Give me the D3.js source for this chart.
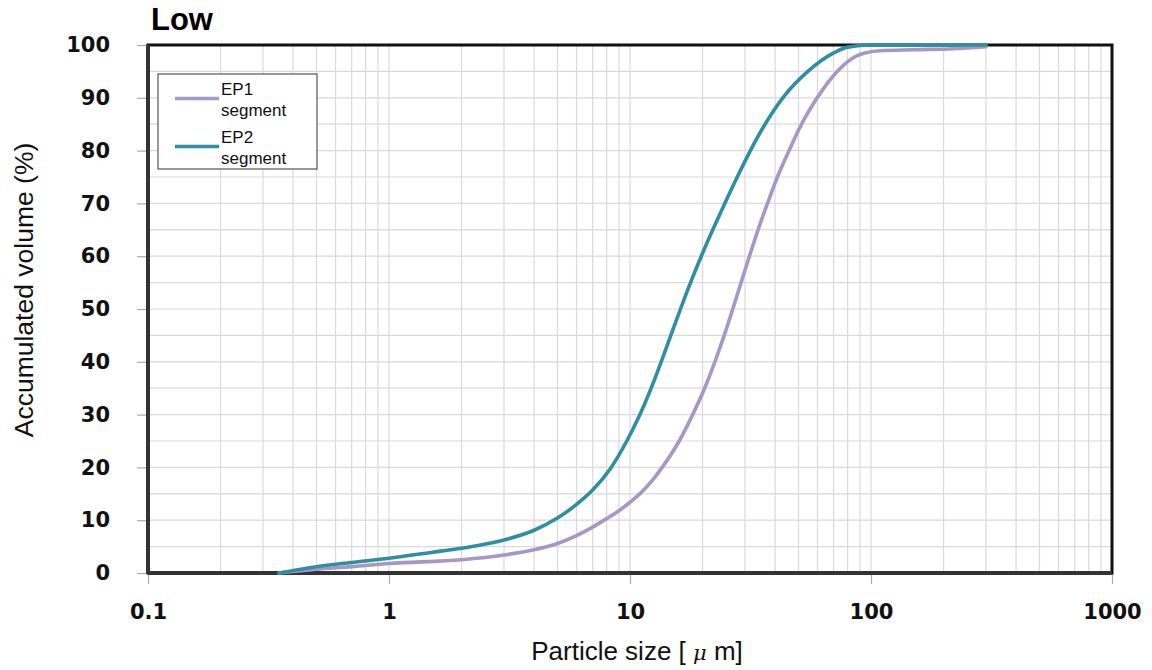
<!DOCTYPE html>
<html>
<head>
<meta charset="utf-8">
<script src="https://cdn.jsdelivr.net/npm/d3@7"></script>
<style>
    body { margin: 0; background: #fff; }
    svg { display: block; }
</style>
</head>
<body>
<div id="chart"></div>
<script>
// particle size (um) and accumulated volume (%)
var ep1Size = [0.35, 0.5, 0.7, 1, 2, 3, 4, 5, 6, 7, 8, 9, 10, 11.1, 12.3, 13.6, 16, 18.2, 20.4, 22.5, 24.6, 26.7, 28.9, 31.3, 34, 37.2, 40.9, 45.7, 51.5, 59.8, 72.4, 87.7, 109, 150, 220, 300];
var ep1Volume = [0, 0.7, 1.2, 1.8, 2.5, 3.4, 4.4, 5.6, 7.1, 8.7, 10.3, 11.8, 13.4, 15.2, 17.4, 20, 25, 30, 35, 40, 45, 50, 55, 60, 65, 70, 75, 80, 85, 90, 95, 98, 98.9, 99.1, 99.3, 99.7];

var ep2Size = [0.35, 0.5, 0.7, 1, 1.5, 2, 3, 4, 5, 6, 7, 8.3, 9.7, 11.0, 12.24, 13.47, 14.77, 16.2, 17.83, 19.76, 22.05, 24.74, 27.86, 31.58, 36.34, 43.05, 54.7, 70, 80, 100, 300];
var ep2Volume = [0, 1.2, 2.0, 2.8, 3.9, 4.7, 6.25, 8.1, 10.4, 13.0, 15.7, 19.8, 25, 30, 35, 40, 45, 50, 55, 60, 65, 70, 75, 80, 85, 90, 95, 98.5, 99.6, 100, 100];

var seriesNames = ["EP1 segment", "EP2 segment"];
var seriesColors = ["#a797c4", "#2f8fa2"];

var xTicks = [0.1, 1, 10, 100, 1000];
var yTicks = [0, 10, 20, 30, 40, 50, 60, 70, 80, 90, 100];

function renderChart(position) {
    var margin = {top: 45, right: 40, bottom: 97, left: 148},
        width = 1152 - margin.left - margin.right,
        height = 670 - margin.top - margin.bottom;

    var svg = d3.select("#" + position)
        .append("svg")
        .attr("width", 1152)
        .attr("height", 670)
        .append("g")
        .attr("transform", "translate(" + margin.left + "," + margin.top + ")");

    var x = d3.scaleLog()
        .domain([0.1, 1000])
        .range([0, width]);

    var y = d3.scaleLinear()
        .domain([0, 100])
        .range([height, 0]);

    // grid: every minor decade step vertically, every 5 % horizontally
    var xGrid = [];
    for (var p = -1; p < 3; p++) {
        for (var m = 1; m < 10; m++) {
            xGrid.push(m * Math.pow(10, p));
        }
    }
    var yGrid = d3.range(0, 101, 5);

    svg.append("g")
        .selectAll("line")
        .data(xGrid)
        .enter().append("line")
        .attr("x1", function (d) { return x(d); })
        .attr("x2", function (d) { return x(d); })
        .attr("y1", 0)
        .attr("y2", height)
        .attr("stroke", "#dadada")
        .attr("stroke-width", 1.2);

    svg.append("g")
        .selectAll("line")
        .data(yGrid)
        .enter().append("line")
        .attr("x1", 0)
        .attr("x2", width)
        .attr("y1", function (d) { return y(d); })
        .attr("y2", function (d) { return y(d); })
        .attr("stroke", "#dadada")
        .attr("stroke-width", 1.2);

    // axes
    var xAxis = svg.append("g")
        .attr("transform", "translate(0," + height + ")")
        .call(d3.axisBottom(x).tickValues(xTicks).tickSize(11).tickPadding(20)
            .tickFormat(function (d) { return String(d); }));
    xAxis.select(".domain").remove();
    xAxis.selectAll(".tick line").attr("stroke", "#aaa").attr("stroke-width", 1.2);
    xAxis.selectAll(".tick text")
        .attr("font-family", "DejaVu Sans, sans-serif")
        .attr("font-weight", "bold")
        .attr("font-size", "21px")
        .attr("fill", "#111");

    var yAxis = svg.append("g")
        .call(d3.axisLeft(y).tickValues(yTicks).tickSize(11).tickPadding(27));
    yAxis.select(".domain").remove();
    yAxis.selectAll(".tick line").attr("stroke", "#aaa").attr("stroke-width", 1.2);
    yAxis.selectAll(".tick text")
        .attr("font-family", "DejaVu Sans, sans-serif")
        .attr("font-weight", "bold")
        .attr("font-size", "21px")
        .attr("fill", "#111");

    // frame
    svg.append("rect")
        .attr("x", 0)
        .attr("y", 0)
        .attr("width", width)
        .attr("height", height)
        .attr("fill", "none")
        .attr("stroke", "#111")
        .attr("stroke-width", 3);
    svg.append("line")
        .attr("x1", 0).attr("x2", 0)
        .attr("y1", 0).attr("y2", height)
        .attr("stroke", "#333")
        .attr("stroke-width", 4);
    svg.append("line")
        .attr("x1", 0).attr("x2", width)
        .attr("y1", height).attr("y2", height)
        .attr("stroke", "#333")
        .attr("stroke-width", 4);

    // curves
    var line = d3.line()
        .curve(d3.curveMonotoneX)
        .x(function (d) { return x(d[0]); })
        .y(function (d) { return y(d[1]); });

    var series = [
        d3.zip(ep1Size, ep1Volume),
        d3.zip(ep2Size, ep2Volume)
    ];

    svg.selectAll(".curve")
        .data(series)
        .enter().append("path")
        .attr("class", "curve")
        .attr("d", line)
        .attr("fill", "none")
        .attr("stroke", function (d, i) { return seriesColors[i]; })
        .attr("stroke-width", 3.6)
        .attr("stroke-linecap", "round");

    // titles
    svg.append("text")
        .attr("x", 3)
        .attr("y", -15)
        .attr("font-family", "Liberation Sans, Arial, sans-serif")
        .attr("font-weight", "bold")
        .attr("font-size", "31px")
        .attr("fill", "#000")
        .text("Low");

    var xTitle = svg.append("text")
        .attr("x", width / 2 + 7)
        .attr("y", height + 87)
        .attr("text-anchor", "middle")
        .attr("font-family", "Liberation Sans, Arial, sans-serif")
        .attr("font-size", "26px")
        .attr("fill", "#111");
    xTitle.append("tspan").text("Particle size [ ");
    xTitle.append("tspan")
        .attr("font-family", "DejaVu Serif, serif")
        .attr("font-style", "italic")
        .attr("font-size", "21px")
        .text("\u03bc");
    xTitle.append("tspan").text(" m]");

    svg.append("text")
        .attr("transform", "translate(" + (-115) + "," + (height / 2 - 19) + ") rotate(-90)")
        .attr("text-anchor", "middle")
        .attr("font-family", "Liberation Sans, Arial, sans-serif")
        .attr("font-size", "26.5px")
        .attr("fill", "#111")
        .text("Accumulated volume (%)");

    // legend
    var legend = svg.append("g")
        .attr("transform", "translate(10,29)");

    legend.append("rect")
        .attr("width", 159)
        .attr("height", 95)
        .attr("fill", "#fff")
        .attr("stroke", "#555")
        .attr("stroke-width", 1.2);

    var item = legend.selectAll(".legend")
        .data(seriesNames)
        .enter().append("g")
        .attr("class", "legend")
        .attr("transform", function (d, i) {
            return "translate(0," + (i * 48) + ")";
        });

    item.append("line")
        .attr("x1", 17)
        .attr("x2", 61)
        .attr("y1", 24.5)
        .attr("y2", 24.5)
        .attr("stroke", function (d, i) { return seriesColors[i]; })
        .attr("stroke-width", 3.6);

    var label = item.append("text")
        .attr("x", 63)
        .attr("font-family", "Liberation Sans, Arial, sans-serif")
        .attr("font-size", "17px")
        .attr("fill", "#111");
    label.append("tspan")
        .attr("x", 63)
        .attr("y", 21)
        .text(function (d) { return d.split(" ")[0]; });
    label.append("tspan")
        .attr("x", 63)
        .attr("y", 42)
        .text(function (d) { return d.split(" ")[1]; });
}

renderChart("chart");
</script>
</body>
</html>
